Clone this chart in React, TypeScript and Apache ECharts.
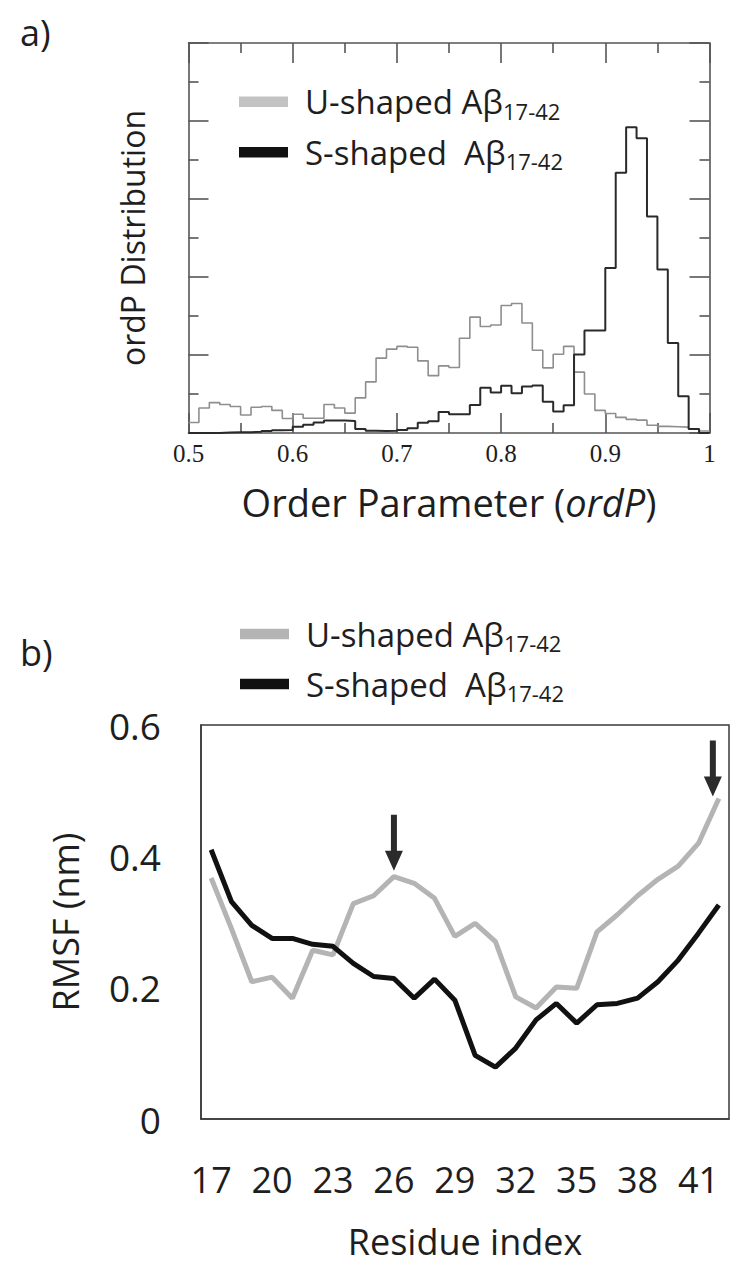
import React, { useEffect, useRef } from "react";
import * as echarts from "echarts";

// ---------- Panel a: ordP histograms (bins of width 0.01 from 0.5 to 1.0) ----------
const ordPMin = 0.5;
const ordPMax = 1.0;
const ordPBinWidth = 0.01;
const uShapedOrdP = [
  0.27, 0.64, 0.78, 0.73, 0.68, 0.46, 0.66, 0.68, 0.58, 0.37,
  0.48, 0.38, 0.38, 0.73, 0.64, 0.51, 0.9, 1.31, 1.92, 2.15,
  2.22, 2.2, 1.85, 1.47, 1.72, 1.68, 2.43, 2.97, 2.73, 2.77,
  3.27, 3.32, 2.82, 2.12, 1.67, 2.02, 2.22, 1.56, 1.0, 0.58,
  0.5, 0.4, 0.35, 0.33, 0.2, 0.17, 0.16, 0.15, 0.1, 0.05,
];
const sShapedOrdP = [
  0, 0, 0, 0.01, 0.02, 0.02, 0.03, 0.05, 0.07, 0.08,
  0.16, 0.21, 0.27, 0.32, 0.32, 0.31, 0.1, 0.06, 0.05, 0.06,
  0.08, 0.12, 0.26, 0.3, 0.54, 0.48, 0.48, 0.72, 1.16, 1.04,
  1.21, 1.02, 1.19, 1.22, 0.8, 0.55, 0.71, 2.01, 2.63, 2.63,
  4.23, 6.67, 7.84, 7.56, 5.55, 4.19, 2.31, 0.94, 0.1, 0,
];
const distMax = 10;
const distInterval = 2;

// ---------- Panel b: RMSF per residue ----------
const residues = [
  "17", "18", "19", "20", "21", "22", "23", "24", "25", "26", "27", "28", "29",
  "30", "31", "32", "33", "34", "35", "36", "37", "38", "39", "40", "41", "42",
];
const uShapedRMSF = [
  0.367, 0.29, 0.209, 0.216, 0.184, 0.257, 0.25, 0.328, 0.34, 0.369, 0.359, 0.336, 0.278,
  0.298, 0.27, 0.186, 0.169, 0.201, 0.199, 0.285, 0.311, 0.34, 0.365, 0.385, 0.42, 0.488,
];
const sShapedRMSF = [
  0.41, 0.331, 0.295, 0.275, 0.275, 0.266, 0.263, 0.237, 0.217, 0.214, 0.184, 0.213, 0.181,
  0.097, 0.079, 0.108, 0.151, 0.176, 0.146, 0.174, 0.176, 0.184, 0.209, 0.242, 0.283, 0.326,
];
const arrowResidues = ["26", "42"];
const rmsfTicks = [0, 0.6, 0.2]; // min, max, interval

const SANS = "'Open Sans', 'Noto Sans', sans-serif";
const SERIF = "'Liberation Serif', 'DejaVu Serif', serif";
const TXT = "#1e1e1e";
const AX = "#555555";

function histData(values: number[]) {
  const pts: [number, number][] = values.map((v, k) => [
    +(ordPMin + k * ordPBinWidth).toFixed(3),
    v,
  ]);
  pts.push([ordPMax, values[values.length - 1]]);
  return pts;
}

function legendRich(base: number, sub: number) {
  return {
    a: { fontFamily: SANS, fontSize: base, lineHeight: 40, fill: TXT },
    s: { fontFamily: SANS, fontSize: sub, lineHeight: 14, verticalAlign: "bottom", fill: TXT },
  };
}

function legendGroup(x: number, y: number, label: string, swatch: string) {
  return {
    type: "group",
    x,
    y,
    children: [
      { type: "rect", shape: { x: 0, y: -5.3, width: 49, height: 10.6 }, style: { fill: swatch } },
      {
        type: "text",
        x: 66,
        y: 0,
        style: {
          text: `{a|${label}}{s|17-42}`,
          rich: legendRich(33, 22),
          verticalAlign: "middle",
          align: "left",
        },
      },
    ],
  };
}

const ARROW = "path://M6,0 L12,0 L12,36 L18,36 L9,56 L0,36 L6,36 Z";

export default function App() {
  const ref = useRef<HTMLDivElement>(null);
  useEffect(() => {
    if (!ref.current) return;
    const chart = echarts.init(ref.current, undefined, { renderer: "svg" });
    const aTickLine = { color: AX, width: 1.6 };
    const option: any = {
      animation: false,
      backgroundColor: "#ffffff",
      grid: [
        { left: 188.5, top: 43, width: 521, height: 390, show: false },
        { left: 201, top: 725, width: 528, height: 394, show: true, borderColor: "#3a3a3a", borderWidth: 1.5, backgroundColor: "transparent" },
      ],
      xAxis: [
        {
          gridIndex: 0,
          type: "value",
          position: "bottom",
          min: ordPMin,
          max: ordPMax,
          interval: 0.1,
          axisLine: { show: true, lineStyle: aTickLine },
          axisTick: { show: true, inside: true, length: 20, lineStyle: aTickLine },
          minorTick: { show: true, splitNumber: 2, length: 10, lineStyle: aTickLine },
          splitLine: { show: false },
          axisLabel: { fontFamily: SERIF, fontSize: 25, color: TXT, margin: 8 },
          name: "Order Parameter ({i|ordP})",
          nameLocation: "middle",
          nameGap: 50,
          nameTextStyle: {
            fontFamily: SANS,
            fontSize: 38,
            color: TXT,
            rich: { i: { fontFamily: SANS, fontSize: 38, fontStyle: "italic", color: TXT } },
          },
        },
        {
          gridIndex: 0,
          type: "value",
          position: "top",
          min: ordPMin,
          max: ordPMax,
          interval: 0.1,
          axisLine: { show: true, onZero: false, lineStyle: aTickLine },
          axisTick: { show: true, inside: true, length: 20, lineStyle: aTickLine },
          minorTick: { show: true, splitNumber: 2, length: 10, lineStyle: aTickLine },
          splitLine: { show: false },
          axisLabel: { show: false },
        },
        {
          gridIndex: 1,
          type: "category",
          data: residues,
          boundaryGap: true,
          axisLine: { show: true, lineStyle: { color: "#3a3a3a", width: 1.5 } },
          axisTick: { show: false },
          axisLabel: { interval: 2, fontFamily: SANS, fontSize: 36, color: TXT, margin: 42 },
          name: "Residue index",
          nameLocation: "middle",
          nameGap: 104,
          nameTextStyle: { fontFamily: SANS, fontSize: 36, color: TXT },
        },
      ],
      yAxis: [
        {
          gridIndex: 0,
          type: "value",
          position: "left",
          min: 0,
          max: distMax,
          interval: distInterval,
          axisLine: { show: true, lineStyle: aTickLine },
          axisTick: { show: true, inside: true, length: 20, lineStyle: aTickLine },
          minorTick: { show: true, splitNumber: 2, length: 10, lineStyle: aTickLine },
          splitLine: { show: false },
          axisLabel: { show: false },
          name: "ordP Distribution",
          nameLocation: "middle",
          nameGap: 40,
          nameTextStyle: { fontFamily: SANS, fontSize: 32, color: TXT },
        },
        {
          gridIndex: 0,
          type: "value",
          position: "right",
          min: 0,
          max: distMax,
          interval: distInterval,
          axisLine: { show: true, onZero: false, lineStyle: aTickLine },
          axisTick: { show: true, inside: true, length: 20, lineStyle: aTickLine },
          minorTick: { show: true, splitNumber: 2, length: 10, lineStyle: aTickLine },
          splitLine: { show: false },
          axisLabel: { show: false },
        },
        {
          gridIndex: 1,
          type: "value",
          min: rmsfTicks[0],
          max: rmsfTicks[1],
          interval: rmsfTicks[2],
          axisLine: { show: true, lineStyle: { color: "#3a3a3a", width: 1.5 } },
          axisTick: { show: false },
          splitLine: { show: false },
          axisLabel: { fontFamily: SANS, fontSize: 37, color: TXT, margin: 40 },
          name: "RMSF (nm)",
          nameLocation: "middle",
          nameGap: 118,
          nameTextStyle: { fontFamily: SANS, fontSize: 36, color: TXT },
        },
      ],
      series: [
        {
          name: "U-shaped Aβ17-42",
          type: "line",
          xAxisIndex: 0,
          yAxisIndex: 0,
          step: "end",
          showSymbol: false,
          data: histData(uShapedOrdP),
          lineStyle: { color: "#8e8e8e", width: 1.6 },
          itemStyle: { color: "#8e8e8e" },
          z: 2,
        },
        {
          name: "S-shaped Aβ17-42",
          type: "line",
          xAxisIndex: 0,
          yAxisIndex: 0,
          step: "end",
          showSymbol: false,
          data: histData(sShapedOrdP),
          lineStyle: { color: "#2a2a2a", width: 2 },
          itemStyle: { color: "#2a2a2a" },
          z: 3,
        },
        {
          name: "U-shaped Aβ17-42",
          type: "line",
          xAxisIndex: 2,
          yAxisIndex: 2,
          showSymbol: false,
          data: uShapedRMSF,
          lineStyle: { color: "#b4b4b4", width: 5 },
          itemStyle: { color: "#b4b4b4" },
          z: 2,
          markPoint: {
            symbol: ARROW,
            symbolSize: [18, 56],
            silent: true,
            label: { show: false },
            itemStyle: { color: "#2b2b2b" },
            data: arrowResidues.map((r, i) => ({
              coord: [r, uShapedRMSF[residues.indexOf(r)]],
              symbolOffset: i === 0 ? [0, -34] : [-6, -30],
            })),
          },
        },
        {
          name: "S-shaped Aβ17-42",
          type: "line",
          xAxisIndex: 2,
          yAxisIndex: 2,
          showSymbol: false,
          data: sShapedRMSF,
          lineStyle: { color: "#111111", width: 5 },
          itemStyle: { color: "#111111" },
          z: 3,
        },
      ],
      graphic: [
        { type: "text", x: 20, y: 14, style: { text: "a)", fontFamily: SANS, fontSize: 36, fill: TXT } },
        { type: "text", x: 20, y: 634, style: { text: "b)", fontFamily: SANS, fontSize: 36, fill: TXT } },
        legendGroup(239, 101.7, "U-shaped Aβ", "#c3c3c3"),
        legendGroup(239, 152.3, "S-shaped  Aβ", "#111111"),
        legendGroup(240, 634, "U-shaped Aβ", "#b4b4b4"),
        legendGroup(240, 684, "S-shaped  Aβ", "#111111"),
      ],
    };
    chart.setOption(option);
    return () => chart.dispose();
  }, []);
  return (
    <div
      ref={ref}
      style={{ position: "absolute", left: 0, top: 0, width: 741, height: 1271, background: "#fff" }}
    />
  );
}
